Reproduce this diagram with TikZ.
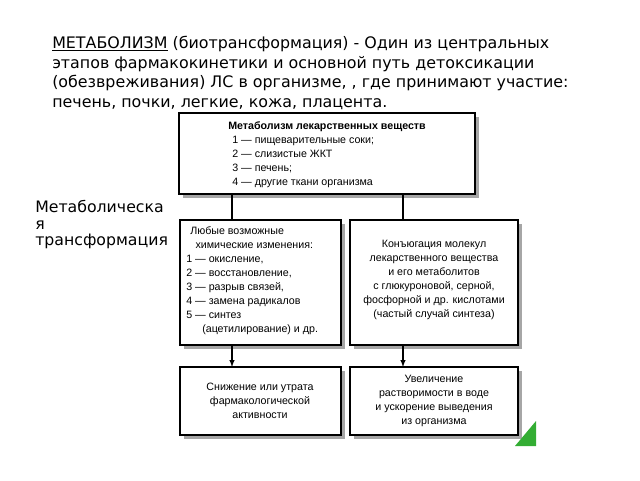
\documentclass[tikz,border=0pt]{standalone}
\usepackage{fontspec}
\setmainfont{DejaVu Sans}
\newfontfamily\boxfont{Liberation Sans}
\usetikzlibrary{positioning, arrows}
\tikzset{
  box/.style={draw, fill=white, line width=0.8pt, inner sep=0pt},
  txt/.style={inner sep=0pt, font=\boxfont\fontsize{8}{10.5}\selectfont},
  shade/.style={fill=black!35},
}
\begin{document}
\begin{tikzpicture}[x=0.75pt, y=-0.75pt]
      \useasboundingbox (0,0) rectangle (640,480);%
      % heading
      \node [anchor=north west, align=left, inner sep=0pt,
      font=\fontsize{11.9}{14.6}\selectfont] (head) at (52,36)
      {\underline{МЕТАБОЛИЗМ} (биотрансформация) - Один из центральных\\
      этапов фармакокинетики и основной путь детоксикации\\
      (обезвреживания) ЛС в организме, , где принимают участие:\\
      печень, почки, легкие, кожа, плацента.};%

      % shadows
      \foreach \xa/\ya/\xb/\yb in {179/113/475/194, 180/220/341/345,
      350/220/518/345, 180/367/341/435, 350/367/518/435}
      \fill [shade] (\xa+4,\ya+4) rectangle (\xb+4,\yb+4);%

      % top box
      \draw [box] (179,113) rectangle (475,194);%
      \node [txt, font=\boxfont\bfseries\fontsize{8}{10.5}\selectfont] (title)
      at (327,127) {Метаболизм лекарственных веществ};%
      \node [txt, anchor=north west, align=left] (sites) at (232,136)
      {1 — пищеварительные соки;\\ 2 — слизистые ЖКТ\\ 3 — печень;\\
      4 — другие ткани организма};%

      % left box
      \draw [box] (180,220) rectangle (341,345);%
      \node [txt, anchor=north west, align=left] (phase1) at (186,226)
      {\hspace*{3pt}Любые возможные\\ \hspace*{7pt}химические изменения:\\
      1 — окисление,\\ 2 — восстановление,\\ 3 — разрыв связей,\\
      4 — замена радикалов\\ 5 — синтез\\ \hspace*{12pt}(ацетилирование) и др.};%

      % right box
      \draw [box] (350,220) rectangle (518,345);%
      \node [txt, align=center] (phase2) at (434,280)
      {Конъюгация молекул\\ лекарственного вещества\\ и его метаболитов\\
      с глюкуроновой, серной,\\ фосфорной и др. кислотами\\
      (частый случай синтеза)};%

      % bottom boxes
      \draw [box] (180,367) rectangle (341,435);%
      \node [txt, align=center] (loss) at (260,401)
      {Снижение или утрата\\ фармакологической\\ активности};%
      \draw [box] (350,367) rectangle (518,435);%
      \node [txt, align=center] (excr) at (434,401)
      {Увеличение\\ растворимости в воде\\ и ускорение выведения\\
      из организма};%

      % connectors
      \coordinate (t1) at (232,194); \coordinate (l1) at (232,220);%
      \coordinate (t2) at (403,194); \coordinate (r1) at (403,220);%
      \coordinate (l2) at (232,345); \coordinate (l3) at (232,367);%
      \coordinate (r2) at (403,345); \coordinate (r3) at (403,367);%
      \draw [line width=0.8pt] (t1) -- (l1);%
      \draw [line width=0.8pt] (t2) -- (r1);%
      \draw [-latex, line width=0.8pt] (l2) -- (l3);%
      \draw [-latex, line width=0.8pt] (r2) -- (r3);%

      % side label
      \node [anchor=north west, align=left, inner sep=0pt,
      font=\fontsize{11.8}{12.5}\selectfont] (side) at (35,200)
      {Метаболическа\\я\\трансформация};%

      % corner mark
      \fill [green!60!black!80] (515,446) -- (536,446) -- (536,421) -- cycle;%
    \end{tikzpicture}
\end{document}
